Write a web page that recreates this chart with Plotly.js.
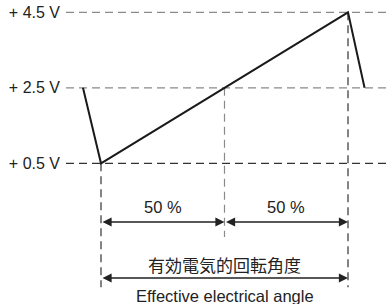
<!DOCTYPE html>
<html>
<head>
<meta charset="utf-8">
<script src="https://cdn.plot.ly/plotly-3.0.1.min.js"></script>
<style>html,body{margin:0;padding:0;background:#fff}#chart{width:391px;height:304px}</style>
</head>
<body>
<div id="chart"></div>
<script>
// Output voltage levels and their labels
const levels = [0.5, 2.5, 4.5];
const levelLabels = ['+ 0.5 V', '+ 2.5 V', '+ 4.5 V'];
const levelColors = ['#333333', '#8a8a8a', '#8a8a8a'];

// Output waveform: angle (% of effective electrical angle) vs voltage
const waveAngle = [-7.3, 0, 100, 106.7];
const waveVolt = [2.5, 0.5, 4.5, 2.5];

// Vertical reference lines: angle, top voltage, bottom (below axis, in V units)
const vAngles = [0, 50, 100];
const vTops = [0.5, 2.5, 4.5];
const vBottoms = [-2.78, -1.45, -2.78];
const vColors = ['#333333', '#8a8a8a', '#333333'];

// Span annotations
const halfLabels = ['50 %', '50 %'];
const spanLabelJa = '有効電気的回転角度';
const spanLabelEn = 'Effective electrical angle';

const xRange = [-14.17, 117.41];
const yRange = [-3.227, 4.826];
const rightEdge = xRange[1];
const leftEdge = xRange[0];

const yHalfArrow = -1.055, yHalfText = -0.66;
const ySpanArrow = -2.54, yJa = -2.19, yEn = -3.02;

const traces = [];
levels.forEach((v, i) => {
  traces.push({x: [leftEdge, rightEdge], y: [v, v], mode: 'lines', hoverinfo: 'skip',
    line: {color: levelColors[i], width: 1.3, dash: '8px,5px'}, showlegend: false});
});
vAngles.forEach((a, i) => {
  traces.push({x: [a, a], y: [vTops[i], vBottoms[i]], mode: 'lines', hoverinfo: 'skip',
    line: {color: vColors[i], width: 1.2, dash: '8px,5px'}, showlegend: false});
});
traces.push({x: waveAngle, y: waveVolt, mode: 'lines', hoverinfo: 'skip',
  line: {color: '#1a1a1a', width: 2}, showlegend: false});

const txtFont = {family: 'Liberation Sans, Arial, sans-serif', size: 16.5, color: '#222'};
const annotations = [];
function dblArrow(x0, x1, y) {
  annotations.push({x: x1, y: y, ax: x0, ay: y, xref: 'x', yref: 'y', axref: 'x', ayref: 'y',
    text: '', showarrow: true, arrowside: 'end+start', arrowhead: 2, arrowsize: 1.3,
    arrowwidth: 1.4, arrowcolor: '#222', standoff: 0, startstandoff: 0});
}
dblArrow(0, 50, yHalfArrow);
dblArrow(50, 100, yHalfArrow);
dblArrow(0, 100, ySpanArrow);
annotations.push({x: 25, y: yHalfText, xref: 'x', yref: 'y', text: halfLabels[0], showarrow: false, font: txtFont});
annotations.push({x: 75, y: yHalfText, xref: 'x', yref: 'y', text: halfLabels[1], showarrow: false, font: txtFont});
annotations.push({x: 50, y: yJa, xref: 'x', yref: 'y', text: spanLabelJa, showarrow: false,
  font: {family: 'Noto Sans CJK JP, sans-serif', size: 17, color: '#222'}});
annotations.push({x: 50, y: yEn, xref: 'x', yref: 'y', text: spanLabelEn, showarrow: false, font: txtFont});

const layout = {
  width: 391, height: 304,
  margin: {l: 66, r: 0, t: 0, b: 0, pad: 0},
  paper_bgcolor: '#fff', plot_bgcolor: '#fff',
  xaxis: {range: xRange, visible: false, fixedrange: true},
  yaxis: {range: yRange, showgrid: false, zeroline: false, showline: false, ticks: '',
    tickmode: 'array', tickvals: levels, ticktext: levelLabels, ticklabelstandoff: 5,
    tickfont: {family: 'Liberation Sans, Arial, sans-serif', size: 16, color: '#222'}, fixedrange: true},
  annotations: annotations,
  showlegend: false
};
Plotly.newPlot('chart', traces, layout, {staticPlot: true, displayModeBar: false});
</script>
</body>
</html>
